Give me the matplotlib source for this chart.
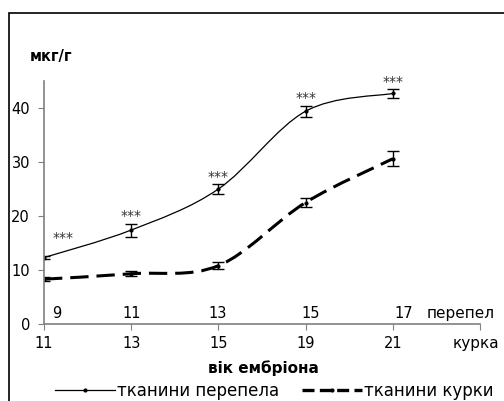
import matplotlib
matplotlib.use("Agg")
import matplotlib.pyplot as plt
from matplotlib.path import Path
from matplotlib.patches import PathPatch, Rectangle
from matplotlib.lines import Line2D

plt.rcParams['font.family'] = ['DejaVu Sans']

# data
quail_age = ['9', '11', '13', '15', '17']
chicken_age = ['11', '13', '15', '19', '21']
quail = [12.3, 17.4, 25.0, 39.4, 42.7]
quail_err = [0.3, 1.2, 0.9, 1.0, 0.8]
chicken = [8.3, 9.3, 10.8, 22.5, 30.6]
chicken_err = [0.4, 0.5, 0.7, 0.8, 1.4]
stars = ['***', '***', '***', '***', '***']


def smooth_path(xs, ys):
    # excel-like smoothed line drawn as cubic bezier segments
    pts = list(zip(xs, ys))
    verts = [pts[0]]
    codes = [Path.MOVETO]
    n = len(pts)
    for i in range(n - 1):
        p0 = pts[max(i - 1, 0)]
        p1 = pts[i]
        p2 = pts[i + 1]
        p3 = pts[min(i + 2, n - 1)]
        c1 = (p1[0] + (p2[0] - p0[0]) / 6, p1[1] + (p2[1] - p0[1]) / 6)
        c2 = (p2[0] - (p3[0] - p1[0]) / 6, p2[1] - (p3[1] - p1[1]) / 6)
        verts += [c1, c2, p2]
        codes += [Path.CURVE4] * 3
    return Path(verts, codes)


fig = plt.figure(figsize=(5.04, 4.01), dpi=100)
ax = fig.add_axes([44 / 504, 1 - 324 / 401, (480 - 44) / 504, (324 - 81) / 401])

x = list(range(len(quail)))

ax.add_patch(PathPatch(smooth_path(x, quail), fill=False, color='black', lw=0.9))
ax.add_patch(PathPatch(smooth_path(x, chicken), fill=False, color='black', lw=2.2,
                       linestyle=(0, (6, 2.6)), capstyle='butt'))

ax.errorbar(x, quail, yerr=quail_err, fmt='o', ms=2, color='black',
            elinewidth=1, capsize=4, capthick=1)
ax.errorbar(x, chicken, yerr=chicken_err, fmt='o', ms=2, color='black',
            elinewidth=1, capsize=4, capthick=1)

for i, s in enumerate(stars):
    if i == 0:
        ax.text(0.22, 14.6, s, ha='center', va='bottom', fontsize=10, color='#333333')
    else:
        ax.text(i, quail[i] + quail_err[i] + 0.1, s, ha='center', va='bottom',
                fontsize=10, color='#333333')

ax.set_xlim(0, 5)
ax.set_ylim(0, 45)
ax.set_yticks([0, 10, 20, 30, 40])
ax.set_xticks(range(6))
ax.set_xticklabels(chicken_age + [''])
ax.tick_params(axis='both', labelsize=10.5, length=4, width=0.8, color='#808080')
ax.tick_params(axis='x', pad=5)
ax.tick_params(axis='y', pad=6)
for side in ['top', 'right']:
    ax.spines[side].set_visible(False)
for side in ['left', 'bottom']:
    ax.spines[side].set_color('#808080')
    ax.spines[side].set_linewidth(1.2)

# quail ages are typed above the axis, a bit off the ticks
shift = [0.15, 0.0, -0.01, 0.06, 0.13]
for i, lab in enumerate(quail_age):
    ax.text(i + shift[i], 2.0, lab, ha='center', va='center', fontsize=10.5)
ax.text(4.78, 2.0, 'перепел', ha='center', va='center', fontsize=11)
ax.text(4.95, -3.6, 'курка', ha='center', va='center', fontsize=11, clip_on=False)

fig.text(51 / 504, 1 - 56 / 401, 'мкг/г', fontsize=10.5, fontweight='bold',
         ha='center', va='center')
fig.text(263 / 504, 1 - 368 / 401, 'вік ембріона', fontsize=11, fontweight='bold',
         ha='center', va='center')

handles = [
    Line2D([], [], color='black', lw=0.9, marker='o', ms=2),
    Line2D([], [], color='black', lw=2.4, linestyle=(0, (3.6, 1.6)), marker='o', ms=2),
]
fig.legend(handles, ['тканини перепела', 'тканини курки'], loc='center',
           bbox_to_anchor=(274 / 504, 1 - 391 / 401), ncol=2, frameon=False,
           fontsize=12, handlelength=3.6, handletextpad=0.1, columnspacing=1.4,
           borderpad=0)

fig.patches.append(Rectangle((9 / 504, -0.1), 1.0, 1.1 - 13 / 401, fill=False,
                             lw=1.2, edgecolor='black', transform=fig.transFigure))

fig.savefig('out.png', dpi=100)
